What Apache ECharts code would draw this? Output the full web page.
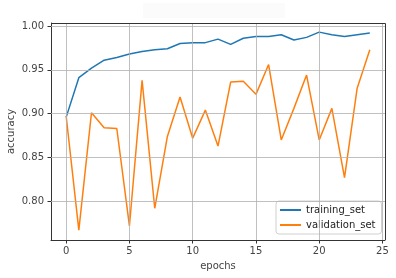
<!DOCTYPE html>
<html><head><meta charset="utf-8">
<script src="https://cdn.jsdelivr.net/npm/echarts@6/dist/echarts.min.js"></script>
<style>html,body{margin:0;padding:0;background:#fff}#c{width:396px;height:278px}</style>
</head><body><div id="c"></div>
<script>
const epochs = [0,1,2,3,4,5,6,7,8,9,10,11,12,13,14,15,16,17,18,19,20,21,22,23,24];
const trainingSet = [0.896,0.941,0.952,0.961,0.964,0.968,0.971,0.973,0.974,0.980,0.981,0.981,0.985,0.979,0.986,0.988,0.988,0.990,0.984,0.987,0.993,0.990,0.988,0.990,0.992];
const validationSet = [0.897,0.767,0.901,0.884,0.883,0.772,0.938,0.792,0.874,0.919,0.872,0.904,0.863,0.936,0.937,0.922,0.956,0.870,0.906,0.944,0.870,0.906,0.827,0.929,0.973];
const xTicks = [0,5,10,15,20,25];
const yTicks = [0.80,0.85,0.90,0.95,1.00];
const seriesNames = ['training_set','validation_set'];

const font = 'DejaVu Sans';
const gridLine = {color:'#b0b0b0', width:0.8, type:'solid'};
const chart = echarts.init(document.getElementById('c'), null, {renderer:'canvas'});
chart.setOption({
  animation:false,
  backgroundColor:'#fff',
  graphic:[
    {type:'rect', shape:{x:143,y:3,width:142,height:15}, style:{fill:'#fbfbfb'}, z:-1},
    {type:'polyline', shape:{points:[[51,23.5],[385.5,23.5],[385.5,240]]}, style:{stroke:'#333', lineWidth:1, fill:null}, z:10}
  ],
  grid:{left:51, top:23, right:11, bottom:38, show:false, containLabel:false, outerBoundsMode:'none'},
  xAxis:{
    type:'value', min:-1.2, max:25.2,
    name:'epochs', nameLocation:'middle', nameGap:21, nameMoveOverlap:false,
    nameTextStyle:{fontFamily:font, fontSize:10, color:'#444'},
    axisLine:{show:true, onZero:false, lineStyle:{color:'#333', width:1}},
    axisTick:{show:true, length:3.5, customValues:xTicks, lineStyle:{color:'#333'}},
    axisLabel:{customValues:xTicks, margin:6, fontFamily:font, fontSize:10, color:'#444'},
    splitLine:{show:false}
  },
  yAxis:{
    type:'value', min:0.7558, max:1.0034,
    name:'accuracy', nameLocation:'middle', nameGap:35, nameRotate:90, nameMoveOverlap:false,
    nameTextStyle:{fontFamily:font, fontSize:10, color:'#444'},
    axisLine:{show:true, onZero:false, lineStyle:{color:'#333', width:1}},
    axisTick:{show:true, length:3.5, customValues:yTicks, lineStyle:{color:'#333'}},
    axisLabel:{customValues:yTicks, margin:7, fontFamily:font, fontSize:10, color:'#444',
      formatter:v=>v.toFixed(2)},
    splitLine:{show:false}
  },
  legend:{
    data:seriesNames.map(n=>({name:n, icon:'rect'})),
    orient:'vertical', left:276, top:201,
    itemWidth:21, itemHeight:2, itemGap:5,
    padding:[4,6,4,4],
    backgroundColor:'rgba(255,255,255,0.8)', borderColor:'#d0d0d0', borderWidth:1, borderRadius:3,
    textStyle:{fontFamily:font, fontSize:10, color:'#222'}
  },
  series:[
    {name:'grid', type:'line', data:[], z:1, silent:true,
     markLine:{silent:true, symbol:'none', label:{show:false}, lineStyle:gridLine, animation:false,
       data:[...xTicks.map(t=>({xAxis:t})), ...yTicks.map(t=>({yAxis:t}))]}},
    {name:seriesNames[0], type:'line', data:epochs.map((e,i)=>[e,trainingSet[i]]), showSymbol:false,
     lineStyle:{color:'#1f77b4', width:1.5}, itemStyle:{color:'#1f77b4'}, z:3},
    {name:seriesNames[1], type:'line', data:epochs.map((e,i)=>[e,validationSet[i]]), showSymbol:false,
     lineStyle:{color:'#ff7f0e', width:1.5}, itemStyle:{color:'#ff7f0e'}, z:3}
  ]
});
</script></body></html>
